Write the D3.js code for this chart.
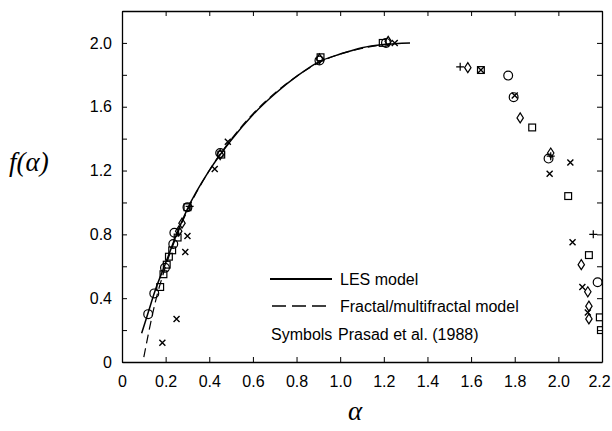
<!DOCTYPE html>
<html>
<head>
  <style>
    body { margin: 0; background: white; }
    svg { display: block; }
  </style>
</head>
<body>
  <svg width="612" height="431"></svg>
  <script src="https://d3js.org/d3.v7.min.js"></script>
  <script>
    // model curves
    const lesAlpha = [0.09, 0.12, 0.15, 0.2, 0.25, 0.3, 0.4, 0.5, 0.6, 0.7, 0.8, 0.9, 1.0, 1.1, 1.2, 1.32];
    const lesF     = [0.18, 0.31, 0.44, 0.62, 0.80, 0.96, 1.20, 1.39, 1.55, 1.68, 1.79, 1.88, 1.93, 1.97, 1.99, 2.0];
    const fracAlpha = [0.1, 0.12, 0.15, 0.2, 0.25, 0.3, 0.4, 0.5, 0.6, 0.7, 0.8, 0.9, 1.0, 1.1, 1.2, 1.25];
    const fracF     = [0.03, 0.17, 0.36, 0.6, 0.79, 0.95, 1.20, 1.395, 1.555, 1.685, 1.79, 1.875, 1.93, 1.965, 1.99, 2.0];

    // Prasad et al. (1988) symbols, [alpha, f]
    const circles = [[0.12,0.30],[0.148,0.43],[0.197,0.59],[0.235,0.74],[0.24,0.81],[0.30,0.97],[0.45,1.31],[0.905,1.89],[1.21,2.0],[1.77,1.795],[1.795,1.66],[1.955,1.275],[2.18,0.50]];
    const squares = [[0.175,0.47],[0.19,0.55],[0.205,0.61],[0.215,0.66],[0.23,0.70],[0.255,0.78],[0.30,0.97],[0.455,1.30],[0.91,1.91],[1.195,2.0],[1.645,1.83],[1.88,1.47],[2.045,1.04],[2.14,0.67],[2.19,0.28],[2.195,0.20]];
    const diamonds = [[0.26,0.82],[0.275,0.87],[0.45,1.30],[0.905,1.90],[1.22,2.01],[1.585,1.845],[1.825,1.53],[1.965,1.31],[2.105,0.61],[2.135,0.44],[2.14,0.35],[2.14,0.27]];
    const pluses = [[0.31,0.975],[1.55,1.85],[1.965,1.29],[2.16,0.80]];
    const crosses = [[0.185,0.12],[0.25,0.27],[0.29,0.69],[0.30,0.79],[0.425,1.21],[0.485,1.38],[1.25,2.0],[1.645,1.83],[1.80,1.67],[1.96,1.18],[2.055,1.25],[2.065,0.75],[2.11,0.47],[2.135,0.31]];

    const xTicks = [0, 0.2, 0.4, 0.6, 0.8, 1.0, 1.2, 1.4, 1.6, 1.8, 2.0, 2.2];
    const yTicks = [0, 0.2, 0.4, 0.6, 0.8, 1.0, 1.2, 1.4, 1.6, 1.8, 2.0];
    const yLabels = [0, 0.4, 0.8, 1.2, 1.6, 2.0];

    const margin = { left: 122, right: 10, top: 11, bottom: 69 };
    const width = 612, height = 431;
    const sans = "'Liberation Sans', Arial, sans-serif";
    const serif = "'Liberation Serif', 'Times New Roman', serif";
    const svg = d3.select("svg");

    const x = d3.scaleLinear().domain([0, 2.2]).range([margin.left, width - margin.right]);
    const y = d3.scaleLinear().domain([0, 2.2]).range([height - margin.bottom, margin.top]);

    const fmt = d => d === 0 ? "0" : d3.format(".1f")(d);

    svg.append("defs").append("clipPath").attr("id", "plot")
      .append("rect")
      .attr("x", x(0)).attr("y", y(2.2))
      .attr("width", x(2.2) - x(0)).attr("height", y(0) - y(2.2));

    // axes, ticks pointing inward
    const axBottom = svg.append("g")
      .attr("transform", `translate(0,${y(0)})`)
      .call(d3.axisBottom(x).tickValues(xTicks).tickSizeInner(-5).tickSizeOuter(0).tickPadding(14).tickFormat(fmt));
    const axTop = svg.append("g")
      .attr("transform", `translate(0,${y(2.2)})`)
      .call(d3.axisTop(x).tickValues(xTicks).tickSizeInner(-5).tickSizeOuter(0).tickFormat(""));
    const axLeft = svg.append("g")
      .attr("transform", `translate(${x(0)},0)`)
      .call(d3.axisLeft(y).tickValues(yTicks).tickSizeInner(-5).tickSizeOuter(0).tickPadding(10)
        .tickFormat(d => yLabels.some(v => Math.abs(v - d) < 1e-9) ? fmt(d) : ""));
    const axRight = svg.append("g")
      .attr("transform", `translate(${x(2.2)},0)`)
      .call(d3.axisRight(y).tickValues(yTicks).tickSizeInner(-5).tickSizeOuter(0).tickFormat(""));

    [axBottom, axTop, axLeft, axRight].forEach(g => {
      g.selectAll("path.domain").attr("stroke", "#000").attr("stroke-width", 1.3);
      g.selectAll(".tick line").attr("stroke", "#000").attr("stroke-width", 1);
      g.selectAll("text").attr("fill", "#000")
        .style("font-family", sans).style("font-size", "16px");
    });
    // last x label sits just inside the page edge
    axBottom.selectAll(".tick text").filter(d => d === 2.2).attr("dx", -3);

    const plot = svg.append("g").attr("clip-path", "url(#plot)");

    const line = d3.line().x(d => x(d[0])).y(d => y(d[1])).curve(d3.curveMonotoneX);

    plot.append("path")
      .datum(lesAlpha.map((a, i) => [a, lesF[i]]))
      .attr("d", line).attr("fill", "none").attr("stroke", "#000").attr("stroke-width", 1.5);
    plot.append("path")
      .datum(fracAlpha.map((a, i) => [a, fracF[i]]))
      .attr("d", line).attr("fill", "none").attr("stroke", "#000").attr("stroke-width", 1.2)
      .attr("stroke-dasharray", "9,5");

    const mk = { fill: "none", stroke: "#000", sw: 1.2 };

    plot.selectAll("circle.c").data(circles).join("circle")
      .attr("cx", d => x(d[0])).attr("cy", d => y(d[1])).attr("r", 4.4)
      .attr("fill", mk.fill).attr("stroke", mk.stroke).attr("stroke-width", mk.sw);

    plot.selectAll("rect.s").data(squares).join("rect")
      .attr("x", d => x(d[0]) - 3.4).attr("y", d => y(d[1]) - 3.4)
      .attr("width", 6.8).attr("height", 6.8)
      .attr("fill", mk.fill).attr("stroke", mk.stroke).attr("stroke-width", mk.sw);

    plot.selectAll("path.d").data(diamonds).join("path")
      .attr("d", d => {
        const cx = x(d[0]), cy = y(d[1]);
        return `M${cx},${cy - 5}L${cx + 3.2},${cy}L${cx},${cy + 5}L${cx - 3.2},${cy}Z`;
      })
      .attr("fill", mk.fill).attr("stroke", mk.stroke).attr("stroke-width", mk.sw);

    plot.selectAll("path.p").data(pluses).join("path")
      .attr("d", d => {
        const cx = x(d[0]), cy = y(d[1]);
        return `M${cx - 4},${cy}H${cx + 4}M${cx},${cy - 4}V${cy + 4}`;
      })
      .attr("stroke", mk.stroke).attr("stroke-width", mk.sw);

    plot.selectAll("path.x").data(crosses).join("path")
      .attr("d", d => {
        const cx = x(d[0]), cy = y(d[1]);
        return `M${cx - 3},${cy - 3}L${cx + 3},${cy + 3}M${cx - 3},${cy + 3}L${cx + 3},${cy - 3}`;
      })
      .attr("stroke", mk.stroke).attr("stroke-width", 1.4);

    // legend
    const lg = svg.append("g");
    lg.append("line").attr("x1", 270).attr("x2", 332).attr("y1", 279).attr("y2", 279)
      .attr("stroke", "#000").attr("stroke-width", 1.8);
    lg.append("line").attr("x1", 272).attr("x2", 332).attr("y1", 306).attr("y2", 306)
      .attr("stroke", "#000").attr("stroke-width", 1.3).attr("stroke-dasharray", "14,6");
    const legText = [
      { x: 340, y: 285, t: "LES model" },
      { x: 340, y: 312, t: "Fractal/multifractal model" },
      { x: 271, y: 340, t: "Symbols" },
      { x: 338, y: 340, t: "Prasad et al. (1988)" }
    ];
    lg.selectAll("text").data(legText).join("text")
      .attr("x", d => d.x).attr("y", d => d.y).text(d => d.t)
      .style("font-family", sans).style("font-size", "16px").attr("fill", "#000");

    // axis titles
    svg.append("text").attr("x", 9).attr("y", 171)
      .style("font-family", serif).style("font-style", "italic").style("font-size", "27px")
      .text("f(α)");
    svg.append("text").attr("x", 355).attr("y", 420).attr("text-anchor", "middle")
      .style("font-family", serif).style("font-style", "italic").style("font-size", "27px")
      .text("α");
  </script>
</body>
</html>
